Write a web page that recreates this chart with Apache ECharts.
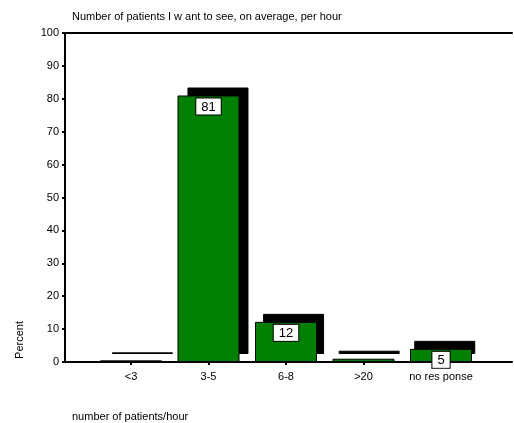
<!DOCTYPE html>
<html>
<head>
<meta charset="utf-8">
<script src="https://cdn.jsdelivr.net/npm/echarts@6/dist/echarts.min.js"></script>
<style>
html,body{margin:0;padding:0;background:#fff;}
#c{width:514px;height:423px;}
</style>
</head>
<body>
<div id="c"></div>
<script>
// ---- data ----
var categories = ['<3', '3-5', '6-8', '>20', 'no res ponse'];
var percentValues = [0.5, 81, 12.2, 1, 4];
var barLabels = ['', '81', '12', '', '5'];
var yMin = 0, yMax = 100, yStep = 10;
var chartTitle = 'Number of patients I w ant to see, on average, per hour';
var xTitle = 'number of patients/hour';
var yTitle = 'Percent';

// ---- layout ----
var FONT = 'Liberation Sans, Arial, sans-serif';
var xMin = -0.8516, xMax = 4.916;
var catIdx = categories.map(function (c, i) { return i; });
var frontData = percentValues.map(function (v, i) {
  return { value: [i, v], label: { show: barLabels[i] !== '' } };
});
var backData = percentValues.map(function (v, i) { return [i, v]; });

var chart = echarts.init(document.getElementById('c'), null, { renderer: 'canvas' });
chart.setOption({
  backgroundColor: '#fff',
  animation: false,
  textStyle: { fontFamily: FONT },
  title: [
    { text: chartTitle, left: 67, top: 6, textStyle: { fontSize: 11, fontWeight: 'normal', color: '#000', fontFamily: FONT } },
    { text: xTitle, left: 67, top: 406, textStyle: { fontSize: 11, fontWeight: 'normal', color: '#000', fontFamily: FONT } }
  ],
  graphic: [
    { type: 'text', left: 14, top: 321, rotation: Math.PI / 2,
      style: { text: yTitle, fontSize: 11, fill: '#000', fontFamily: FONT } }
  ],
  grid: [
    { left: 65, right: 2, top: 33, bottom: 61 },
    { left: 78, right: -11, top: 25, bottom: 69 }
  ],
  xAxis: [
    { type: 'value', gridIndex: 0, min: xMin, max: xMax, position: 'bottom',
      axisLine: { show: true, onZero: false, lineStyle: { color: '#000', width: 2 } },
      axisTick: { show: true, length: 3, inside: false, customValues: catIdx, lineStyle: { color: '#000', width: 2 } },
      axisLabel: { show: true, customValues: catIdx, margin: 9, fontSize: 11, color: '#000', fontFamily: FONT,
        formatter: function (v) { return categories[Math.round(v)]; } },
      splitLine: { show: false } },
    { type: 'value', gridIndex: 0, min: xMin, max: xMax, position: 'top',
      axisLine: { show: true, onZero: false, lineStyle: { color: '#000', width: 2 } },
      axisTick: { show: false }, axisLabel: { show: false }, splitLine: { show: false } },
    { type: 'value', gridIndex: 1, min: xMin, max: xMax, show: false, splitLine: { show: false } }
  ],
  yAxis: [
    { type: 'value', gridIndex: 0, min: yMin, max: yMax, interval: yStep, position: 'left',
      axisLine: { show: true, onZero: false, lineStyle: { color: '#000', width: 2 } },
      axisTick: { show: true, length: 3, inside: false, lineStyle: { color: '#000', width: 2 } },
      axisLabel: { fontSize: 11, color: '#000', margin: 6, fontFamily: FONT },
      splitLine: { show: false } },
    { type: 'value', gridIndex: 1, min: yMin, max: yMax, show: false, splitLine: { show: false } }
  ],
  series: [
    { type: 'bar', name: 'back', xAxisIndex: 2, yAxisIndex: 1, data: backData, barWidth: 61, z: 1,
      itemStyle: { color: '#000', borderColor: '#000', borderWidth: 1 }, silent: true },
    { type: 'bar', name: 'Percent', xAxisIndex: 0, yAxisIndex: 0, data: frontData, barWidth: 62, z: 3,
      itemStyle: { color: '#008000', borderColor: '#000', borderWidth: 1 },
      label: { show: true, position: 'insideTop', distance: 3,
        formatter: function (p) { return barLabels[p.dataIndex]; },
        backgroundColor: '#fff', borderColor: '#000', borderWidth: 1,
        padding: [2, 5, 1, 5], fontSize: 13, color: '#000', fontFamily: FONT } }
  ]
});
</script>
</body>
</html>
